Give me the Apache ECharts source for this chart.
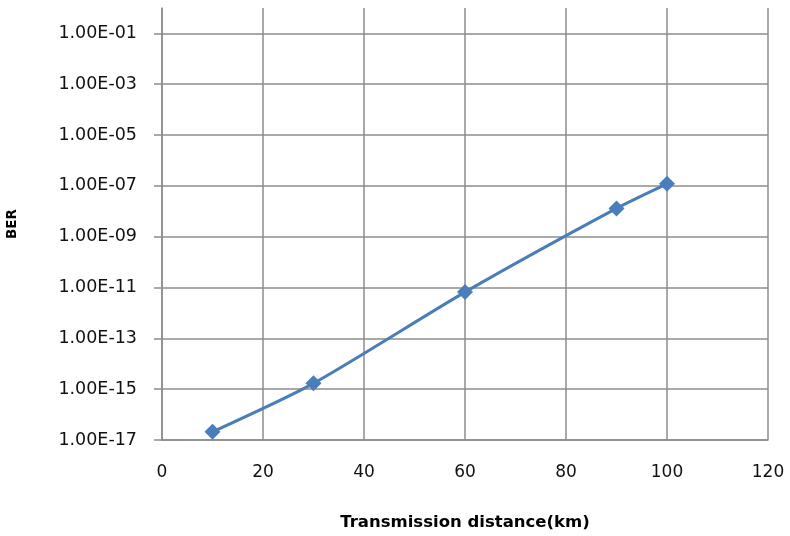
<!DOCTYPE html>
<html><head><meta charset="utf-8">
<script src="https://cdn.jsdelivr.net/npm/echarts@6/dist/echarts.min.js"></script>
<style>html,body{margin:0;padding:0;background:#fff}#c{width:790px;height:536px}</style>
</head><body><div id="c"></div>
<script>
const distances = [10, 30, 60, 90, 100];
const ber = [2.1e-17, 1.7e-15, 6.6e-12, 1.3e-8, 1.2e-7];
const yTicks = [1e-17, 1e-15, 1e-13, 1e-11, 1e-9, 1e-7, 1e-5, 1e-3, 1e-1];
const xTitle = 'Transmission distance(km)';
const yTitle = 'BER';

const chart = echarts.init(document.getElementById('c'));
const gridColor = '#8c8c8c';
const font = 'DejaVu Sans';
chart.setOption({
  animation: false,
  grid: {left: 162, right: 22, top: 8, bottom: 96, containLabel: false, outerBoundsMode: 'none'},
  xAxis: {
    type: 'value', min: 0, max: 120, interval: 20,
    name: xTitle, nameLocation: 'middle', nameGap: 74,
    nameTextStyle: {fontFamily: font, fontWeight: 'bold', fontSize: 16.5, color: '#000'},
    axisLine: {show: true, lineStyle: {color: gridColor, width: 1.5}},
    axisTick: {show: false},
    axisLabel: {fontFamily: font, fontSize: 17, color: '#111', margin: 24},
    splitLine: {show: true, lineStyle: {color: gridColor, width: 1.5}}
  },
  yAxis: {
    type: 'log', logBase: 10, min: 1e-17, max: 1,
    name: yTitle, nameLocation: 'middle', nameGap: 143, nameRotate: 90,
    nameTextStyle: {fontFamily: font, fontWeight: 'bold', fontSize: 13.5, color: '#000'},
    axisLine: {show: true, lineStyle: {color: gridColor, width: 1.5}},
    axisTick: {show: true, length: 8, customValues: yTicks, lineStyle: {color: gridColor, width: 1.5}},
    axisLabel: {fontFamily: font, fontSize: 17.5, color: '#111', margin: 25, customValues: yTicks,
      formatter: function (v) {
        const e = Math.round(Math.log10(v));
        const s = Math.abs(e) < 10 ? '0' + Math.abs(e) : '' + Math.abs(e);
        return '1.00E' + (e < 0 ? '-' : '+') + s;
      }},
    splitLine: {show: true, lineStyle: {color: gridColor, width: 1.5}}
  },
  series: [{
    type: 'line', smooth: 0.25,
    data: distances.map((d, i) => [d, ber[i]]),
    symbol: 'diamond', symbolSize: 16,
    lineStyle: {color: '#4a7ebb', width: 3},
    itemStyle: {color: '#4a7ebb'}
  }]
});
</script></body></html>
